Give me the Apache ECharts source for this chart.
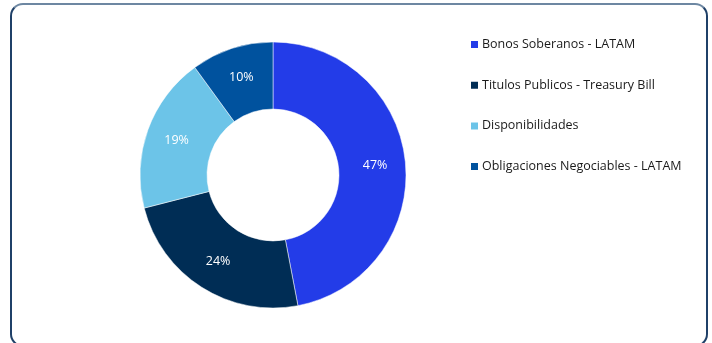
<!DOCTYPE html>
<html>
<head>
<meta charset="utf-8">
<script src="https://cdn.jsdelivr.net/npm/echarts@6/dist/echarts.min.js"></script>
<style>
  html, body { margin: 0; padding: 0; background: #ffffff; }
  #frame {
    position: absolute; left: 10px; top: 3px; width: 698px; height: 344px;
    box-sizing: border-box; border: 2px solid #1f4068; border-top-color: #6d87a2;
    border-radius: 13px;
  }
  #chart { position: absolute; left: 0; top: 0; width: 712px; height: 343px; }
</style>
</head>
<body>
<div id="frame"></div>
<div id="chart"></div>
<script>
// Portfolio composition by instrument type (percent)
const categories = [
  'Bonos Soberanos - LATAM',
  'Titulos Publicos - Treasury Bill',
  'Disponibilidades',
  'Obligaciones Negociables - LATAM'
];
const shares = [47, 24, 19, 10];
const colors = ['#233ce8', '#002d55', '#6cc4e8', '#00529e'];

const chart = echarts.init(document.getElementById('chart'), null, { renderer: 'canvas' });
chart.setOption({
  animation: false,
  color: colors,
  legend: {
    orient: 'vertical',
    left: 464,
    top: 33,
    itemWidth: 9,
    itemHeight: 9,
    itemGap: 27.7,
    icon: 'rect',
    selectedMode: false,
    textStyle: { fontFamily: 'Open Sans', fontSize: 12.5, color: '#1a1a1a', padding: [0, 0, 0, -2] },
    data: categories
  },
  series: [{
    type: 'pie',
    center: [273, 175],
    radius: [66, 133],
    startAngle: 90,
    clockwise: true,
    silent: true,
    itemStyle: { borderColor: '#ffffff', borderWidth: 0.5 },
    label: {
      show: true,
      position: 'inside',
      formatter: '{c}%',
      color: '#ffffff',
      fontFamily: 'Open Sans',
      fontSize: 12.5
    },
    labelLine: { show: false },
    data: categories.map((name, i) => ({ name: name, value: shares[i] }))
  }]
});
</script>
</body>
</html>
